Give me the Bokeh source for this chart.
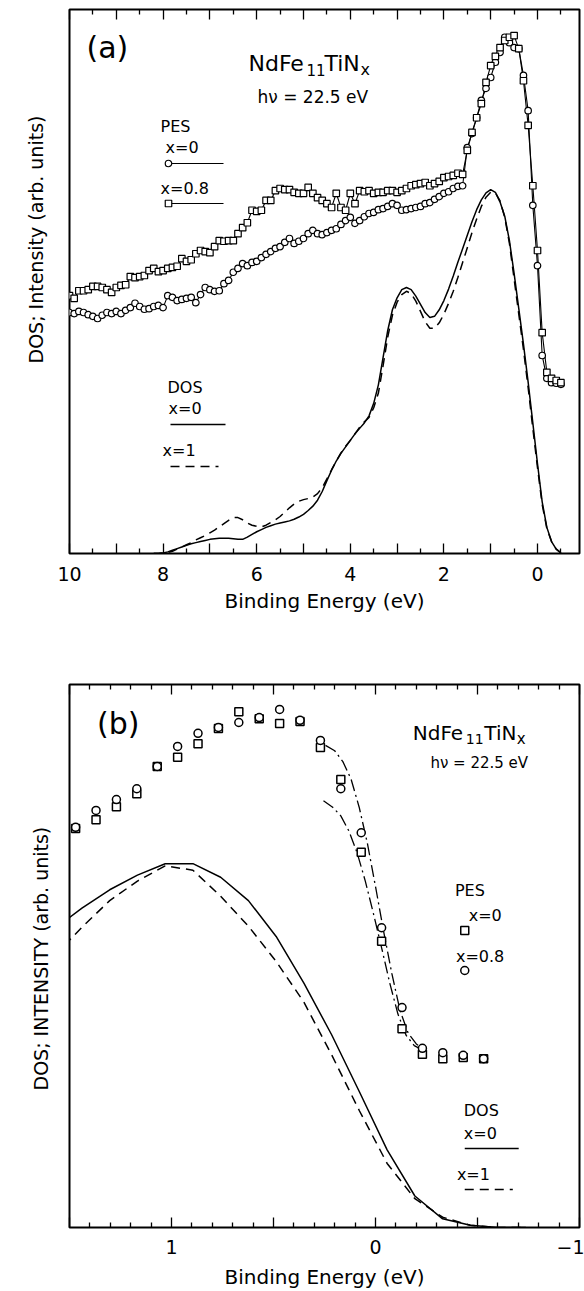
from bokeh.plotting import figure
from bokeh.models import Range1d, FixedTicker, LinearAxis, Label, Title
from bokeh.layouts import column
from bokeh.embed import file_html
from bokeh.resources import INLINE

FONT = "DejaVu Sans"

# ---------------- panel (a) data ----------------
E_PES_A = [10.0, 9.9, 9.8, 9.7, 9.6, 9.5, 9.4, 9.3, 9.2, 9.1,
           9.0, 8.9, 8.8, 8.7, 8.6, 8.5, 8.4, 8.3, 8.2, 8.1,
           8.0, 7.9, 7.8, 7.7, 7.6, 7.5, 7.4, 7.3, 7.2, 7.1,
           7.0, 6.9, 6.8, 6.7, 6.6, 6.5, 6.4, 6.3, 6.2, 6.1,
           6.0, 5.9, 5.8, 5.7, 5.6, 5.5, 5.4, 5.3, 5.2, 5.1,
           5.0, 4.9, 4.8, 4.7, 4.6, 4.5, 4.4, 4.3, 4.2, 4.1,
           4.0, 3.9, 3.8, 3.7, 3.6, 3.5, 3.4, 3.3, 3.2, 3.1,
           3.0, 2.9, 2.8, 2.7, 2.6, 2.5, 2.4, 2.3, 2.2, 2.1,
           2.0, 1.9, 1.8, 1.7, 1.6, 1.5, 1.4, 1.3, 1.2, 1.1,
           1.0, 0.9, 0.8, 0.7, 0.6, 0.5, 0.4, 0.3, 0.2, 0.1,
           0.0, -0.1, -0.2, -0.3, -0.4, -0.5]
PES_A_X0 = [44.3, 44.1, 44.5, 44.3, 43.9, 43.6, 43.2, 43.8, 44.3, 44.1,
            44.5, 44.1, 44.7, 45.2, 46.0, 45.4, 44.9, 45.0, 45.4, 45.6,
            45.2, 47.4, 47.1, 46.5, 46.7, 46.9, 47.1, 46.1, 47.6, 48.9,
            48.5, 48.2, 48.3, 49.6, 50.2, 51.7, 52.4, 53.3, 52.9, 53.5,
            53.7, 54.4, 55.0, 55.5, 56.1, 56.4, 57.2, 57.9, 57.0, 57.4,
            57.9, 58.8, 59.4, 58.8, 58.6, 59.0, 59.4, 59.7, 60.5, 61.2,
            61.8, 60.7, 61.2, 61.9, 62.5, 62.7, 63.2, 63.4, 63.8, 64.3,
            64.0, 63.1, 63.2, 63.4, 63.6, 63.8, 64.3, 64.5, 65.1, 65.6,
            66.2, 66.5, 67.1, 67.5, 67.6, 74.6, 77.2, 80.1, 83.3, 85.5,
            87.5, 90.3, 92.1, 94.9, 93.9, 93.0, 92.8, 87.9, 81.4, 64.0,
            52.9, 36.4, 32.2, 31.4, 31.3, 31.1]
PES_A_X08 = [47.4, 46.9, 48.3, 48.3, 48.5, 49.1, 49.1, 48.9, 48.5, 48.0,
             48.9, 49.3, 49.4, 50.9, 50.7, 50.9, 51.1, 52.0, 52.4, 51.8,
             52.0, 52.4, 52.6, 52.8, 54.2, 53.7, 54.0, 55.1, 55.7, 55.5,
             55.3, 56.4, 57.5, 57.4, 57.5, 57.5, 58.8, 59.9, 60.8, 63.1,
             62.9, 63.1, 64.9, 64.9, 66.7, 67.1, 66.9, 66.9, 66.4, 66.2,
             66.2, 67.3, 66.2, 65.4, 64.9, 64.3, 63.6, 66.2, 63.6, 63.1,
             66.2, 64.3, 66.7, 66.5, 66.7, 66.2, 66.4, 66.4, 66.7, 66.7,
             66.4, 66.7, 67.1, 67.6, 67.8, 68.0, 68.2, 67.6, 68.0, 68.4,
             69.1, 69.3, 69.5, 69.9, 69.7, 74.1, 77.4, 80.1, 82.7, 86.6,
             89.7, 91.4, 93.0, 94.3, 94.9, 95.2, 92.8, 86.9, 78.7, 67.6,
             55.7, 40.6, 33.3, 32.2, 31.8, 31.4]

E_DOS_A = [8.2, 8.1,
           8.0, 7.9, 7.8, 7.7, 7.6, 7.5, 7.4, 7.3, 7.2, 7.1,
           7.0, 6.9, 6.8, 6.7, 6.6, 6.5, 6.4, 6.3, 6.2, 6.1,
           6.0, 5.9, 5.8, 5.7, 5.6, 5.5, 5.4, 5.3, 5.2, 5.1,
           5.0, 4.9, 4.8, 4.7, 4.6, 4.5, 4.4, 4.3, 4.2, 4.1,
           4.0, 3.9, 3.8, 3.7, 3.6, 3.5, 3.4, 3.3, 3.2, 3.1,
           3.0, 2.9, 2.8, 2.7, 2.6, 2.5, 2.4, 2.3, 2.2, 2.1,
           2.0, 1.9, 1.8, 1.7, 1.6, 1.5, 1.4, 1.3, 1.2, 1.1,
           1.0, 0.9, 0.8, 0.7, 0.6, 0.5, 0.4, 0.3, 0.2, 0.1,
           0.0, -0.1, -0.2, -0.3, -0.4, -0.5]
DOS_A_X0 = [0.0, 0.0,
            0.1, 0.3, 0.6, 0.9, 1.2, 1.5, 1.8, 2.0, 2.2, 2.4,
            2.6, 2.7, 2.8, 2.8, 2.8, 2.7, 2.6, 2.6, 3.0, 3.5,
            4.0, 4.4, 4.8, 5.1, 5.4, 5.6, 5.8, 6.0, 6.3, 6.7,
            7.2, 7.9, 8.7, 9.8, 11.4, 13.4, 15.3, 17.0, 18.4, 19.6,
            20.8, 22.0, 23.0, 24.0, 25.3, 27.6, 31.0, 36.0, 41.0, 44.8,
            47.0, 48.5, 48.9, 48.5, 47.3, 45.8, 44.3, 43.4, 43.6, 44.8,
            46.5, 48.6, 51.0, 53.6, 56.0, 58.5, 61.0, 63.2, 65.0, 66.3,
            66.9, 66.4, 64.6, 62.0, 57.5, 51.5, 45.0, 38.5, 31.5, 24.0,
            16.5, 9.5, 4.8, 2.2, 0.8, 0.1]
DOS_A_X1 = [0.0, 0.0,
            0.1, 0.2, 0.4, 0.8, 1.2, 1.6, 2.0, 2.5, 2.9, 3.3,
            3.8, 4.3, 4.9, 5.5, 6.1, 6.6, 6.6, 6.2, 5.6, 5.2,
            5.0, 4.9, 5.2, 5.7, 6.2, 6.8, 7.6, 8.4, 9.1, 9.6,
            9.9, 10.1, 10.4, 11.0, 12.1, 13.7, 15.4, 17.0, 18.5, 19.7,
            20.8, 22.0, 23.2, 24.2, 25.0, 26.8, 29.5, 34.5, 39.8, 43.8,
            46.2, 47.6, 48.2, 47.8, 46.4, 44.5, 42.6, 41.4, 41.4, 42.4,
            44.0, 46.0, 48.2, 50.8, 53.5, 56.2, 59.0, 61.5, 63.8, 65.5,
            66.4, 66.3, 64.8, 61.8, 57.0, 50.5, 44.0, 37.5, 30.5, 23.0,
            15.8, 9.0, 4.6, 2.2, 0.8, 0.1]

TICKS_A = [0, 1, 2, 3, 4, 5, 6, 7, 8, 9, 10]
MINOR_A = [-0.5, 0.5, 1.5, 2.5, 3.5, 4.5, 5.5, 6.5, 7.5, 8.5, 9.5]
TICK_LABELS_A = {0: "0", 1: "", 2: "2", 3: "", 4: "4", 5: "", 6: "6", 7: "", 8: "8", 9: "", 10: "10"}

# ---------------- panel (b) data ----------------
E_PES_B = [1.47, 1.37, 1.27, 1.17, 1.07, 0.97, 0.87, 0.77, 0.67, 0.57, 0.47,
           0.37, 0.27, 0.17, 0.07, -0.03, -0.13, -0.23, -0.33, -0.43, -0.53]
PES_B_X0 = [73.5, 75.1, 77.5, 79.9, 84.9, 86.6, 89.1, 91.9, 95.0, 93.7, 92.8,
            93.2, 88.4, 82.5, 69.1, 52.7, 36.6, 31.9, 31.1, 31.3, 31.1]
PES_B_X08 = [73.7, 76.8, 78.8, 80.8, 84.9, 88.6, 91.0, 92.1, 93.0, 93.9, 95.4,
             93.4, 89.7, 80.8, 72.7, 55.2, 40.5, 33.0, 32.2, 31.7, 31.1]

E_DOS_B = [1.575, 1.439, 1.303, 1.167, 1.031, 0.895, 0.759, 0.623, 0.487,
           0.351, 0.215, 0.079, -0.057, -0.193, -0.329, -0.465, -0.601, -0.737]
DOS_B_X0 = [55.0, 58.8, 62.2, 64.9, 67.0, 67.0, 64.5, 60.2, 53.6,
            45.0, 35.5, 25.0, 14.3, 5.8, 1.6, 0.4, 0.0, 0.0]
DOS_B_X1 = [50.0, 55.3, 60.2, 63.8, 66.6, 65.8, 61.0, 55.5, 49.0,
            41.5, 31.8, 21.5, 11.8, 5.3, 1.9, 0.4, 0.0, 0.0]

E_FIT_B1 = [0.245, 0.20, 0.16, 0.12, 0.08, 0.04, 0.00, -0.04, -0.08, -0.12, -0.16, -0.20, -0.23]
FIT_B1 = [88.8, 87.8, 85.8, 82.6, 77.4, 70.8, 62.8, 54.5, 46.8, 40.0, 35.8, 33.8, 33.0]
E_FIT_B2 = [0.255, 0.21, 0.17, 0.13, 0.09, 0.05, 0.01, -0.03, -0.07, -0.11, -0.15, -0.19, -0.22]
FIT_B2 = [78.6, 77.4, 75.8, 73.0, 69.0, 63.8, 57.8, 51.5, 45.0, 39.3, 35.4, 33.5, 32.9]

TICKS_B = [1.5, 1.0, 0.5, 0.0, -0.5, -1.0]
MINOR_B = [1.4, 1.3, 1.2, 1.1, 0.9, 0.8, 0.7, 0.6, 0.4, 0.3, 0.2, 0.1,
           -0.1, -0.2, -0.3, -0.4, -0.6, -0.7, -0.8, -0.9]
TICK_LABELS_B = {1.5: "", 1.0: "1", 0.5: "", 0.0: "0", -0.5: "", -1.0: "\u22121"}

# ---------------- layout helpers (frame geometry in page pixels) ----------------
A_LEFT, A_TOP, A_BOTTOM, A_X0, A_PXE = 69, 9, 553, 10.0, 46.8
B_LEFT, B_TOP, B_BOTTOM, B_X0, B_PXE = 59, 684, 1227, 1.5, 208.0


def ax(px):
    return A_X0 - (px - A_LEFT) / A_PXE


def ay(py):
    return (A_BOTTOM - py) / ((A_BOTTOM - A_TOP) / 100.0)


def bx(px):
    return B_X0 - (px - B_LEFT) / B_PXE


def by(py):
    return (B_BOTTOM - py) / ((B_BOTTOM - B_TOP) / 100.0)


def make_fig(height, left, top, bottom, xr):
    p = figure(width=584, height=height, x_range=Range1d(*xr), y_range=Range1d(0, 100),
               output_backend="svg", toolbar_location=None,
               x_axis_location=None, y_axis_location=None,
               min_border_left=left, min_border_right=5,
               min_border_top=top, min_border_bottom=bottom)
    p.grid.visible = False
    p.outline_line_color = "black"
    p.outline_line_width = 2
    p.background_fill_color = "white"
    p.border_fill_color = "white"
    return p


def add_axes(p, ticks, minor, labels, label_standoff, axis_standoff):
    common = dict(axis_line_color=None, major_tick_in=10, major_tick_out=0,
                  minor_tick_in=5, minor_tick_out=0,
                  major_tick_line_width=1.3, minor_tick_line_width=1.3,
                  major_tick_line_color="black", minor_tick_line_color="black")
    below = LinearAxis(ticker=FixedTicker(ticks=ticks, minor_ticks=minor),
                       major_label_overrides=labels,
                       major_label_text_font=FONT, major_label_text_font_size="19px",
                       major_label_text_color="black",
                       major_label_standoff=label_standoff,
                       axis_label="Binding Energy (eV)",
                       axis_label_text_font=FONT, axis_label_text_font_size="20px",
                       axis_label_text_font_style="normal", axis_label_text_color="black",
                       axis_label_standoff=axis_standoff, **common)
    above = LinearAxis(ticker=FixedTicker(ticks=ticks, minor_ticks=minor),
                       major_label_overrides={t: "" for t in ticks},
                       major_label_text_font_size="1px", major_label_standoff=0, **common)
    p.add_layout(below, "below")
    p.add_layout(above, "above")


def text(p, t, x, y, size, baseline="middle"):
    p.add_layout(Label(x=x, y=y, text=t, text_font=FONT, text_font_size=size,
                       text_align="left", text_baseline=baseline, text_color="black"))


# ---------------- panel (a) ----------------
pa = make_fig(640, A_LEFT, A_TOP, 640 - A_BOTTOM, (A_X0, ax(579)))
add_axes(pa, TICKS_A, MINOR_A, TICK_LABELS_A, 13, 5)
pa.add_layout(Title(text="DOS; Intensity (arb. units)", align="left", offset=190,
                    vertical_align="middle", standoff=43, text_font=FONT,
                    text_font_size="19px", text_font_style="normal", text_color="black"), "left")

pa.line(E_DOS_A, DOS_A_X0, line_color="black", line_width=1.5)
pa.line(E_DOS_A, DOS_A_X1, line_color="black", line_width=1.5, line_dash="9 6")
pa.line(E_PES_A, PES_A_X0, line_color="black", line_width=1.1)
pa.line(E_PES_A, PES_A_X08, line_color="black", line_width=1.1)
pa.scatter(E_PES_A, PES_A_X0, marker="circle", size=6.5, fill_color="white",
           line_color="black", line_width=1.2)
pa.scatter(E_PES_A, PES_A_X08, marker="square", size=6.5, fill_color="white",
           line_color="black", line_width=1.2)

text(pa, "(a)", ax(86), ay(47), "30px")
text(pa, "NdFe", ax(248), ay(63), "22px", "alphabetic")
text(pa, "11", ax(306), ay(69), "15px", "alphabetic")
text(pa, "TiN", ax(324), ay(63), "22px", "alphabetic")
text(pa, "x", ax(360), ay(69), "16px", "alphabetic")
text(pa, "h\u03bd = 22.5 eV", ax(257), ay(96), "17px")

text(pa, "PES", ax(160), ay(126), "16px")
text(pa, "x=0", ax(165), ay(147), "16px")
pa.line([ax(168), ax(223)], [ay(163), ay(163)], line_color="black", line_width=1.2)
pa.scatter([ax(168)], [ay(163)], marker="circle", size=6.5, fill_color="white",
           line_color="black", line_width=1.2)
text(pa, "x=0.8", ax(160), ay(188), "16px")
pa.line([ax(168), ax(223)], [ay(203), ay(203)], line_color="black", line_width=1.2)
pa.scatter([ax(168)], [ay(203)], marker="square", size=6.5, fill_color="white",
           line_color="black", line_width=1.2)

text(pa, "DOS", ax(167), ay(387), "16px")
text(pa, "x=0", ax(168), ay(408), "16px")
pa.line([ax(170), ax(225)], [ay(424), ay(424)], line_color="black", line_width=1.5)
text(pa, "x=1", ax(162), ay(450), "16px")
pa.line([ax(170), ax(218)], [ay(466), ay(466)], line_color="black", line_width=1.5,
        line_dash="9 6")

# ---------------- panel (b) ----------------
pb = make_fig(651, B_LEFT, B_TOP - 640, 1291 - B_BOTTOM, (B_X0, bx(579)))
add_axes(pb, TICKS_B, MINOR_B, TICK_LABELS_B, 12, 8)
pb.add_layout(Title(text="DOS; INTENSITY (arb. units)", align="left", offset=137,
                    vertical_align="middle", standoff=33, text_font=FONT,
                    text_font_size="19px", text_font_style="normal", text_color="black"), "left")

pb.line(E_DOS_B, DOS_B_X0, line_color="black", line_width=1.5)
pb.line(E_DOS_B, DOS_B_X1, line_color="black", line_width=1.5, line_dash="9 6")
pb.line(E_FIT_B1, FIT_B1, line_color="black", line_width=1.3, line_dash="12 4 2 4")
pb.line(E_FIT_B2, FIT_B2, line_color="black", line_width=1.3, line_dash="12 4 2 4")
pb.scatter(E_PES_B, PES_B_X0, marker="square", size=8, fill_color="white",
           line_color="black", line_width=1.5)
pb.scatter(E_PES_B, PES_B_X08, marker="circle", size=8, fill_color="white",
           line_color="black", line_width=1.5)

text(pb, "(b)", bx(87), by(723), "30px")
text(pb, "NdFe", bx(409), by(732), "20px", "alphabetic")
text(pb, "11", bx(463), by(738), "14px", "alphabetic")
text(pb, "TiN", bx(482), by(732), "20px", "alphabetic")
text(pb, "x", bx(515), by(738), "15px", "alphabetic")
text(pb, "h\u03bd = 22.5 eV", bx(427), by(762), "15px")

text(pb, "PES", bx(452), by(890), "16px")
text(pb, "x=0", bx(466), by(915), "16px")
pb.scatter([bx(462)], [by(930)], marker="square", size=8, fill_color="white",
           line_color="black", line_width=1.5)
text(pb, "x=0.8", bx(453), by(956), "16px")
pb.scatter([bx(462)], [by(970)], marker="circle", size=8, fill_color="white",
           line_color="black", line_width=1.5)

text(pb, "DOS", bx(461), by(1110), "16px")
text(pb, "x=0", bx(461), by(1133), "16px")
pb.line([bx(462), bx(517)], [by(1148), by(1148)], line_color="black", line_width=1.5)
text(pb, "x=1", bx(454), by(1174), "16px")
pb.line([bx(462), bx(511)], [by(1189), by(1189)], line_color="black", line_width=1.5,
        line_dash="9 6")

layout = column(pa, pb, spacing=0)
open("out.html", "w").write(file_html(layout, INLINE))
